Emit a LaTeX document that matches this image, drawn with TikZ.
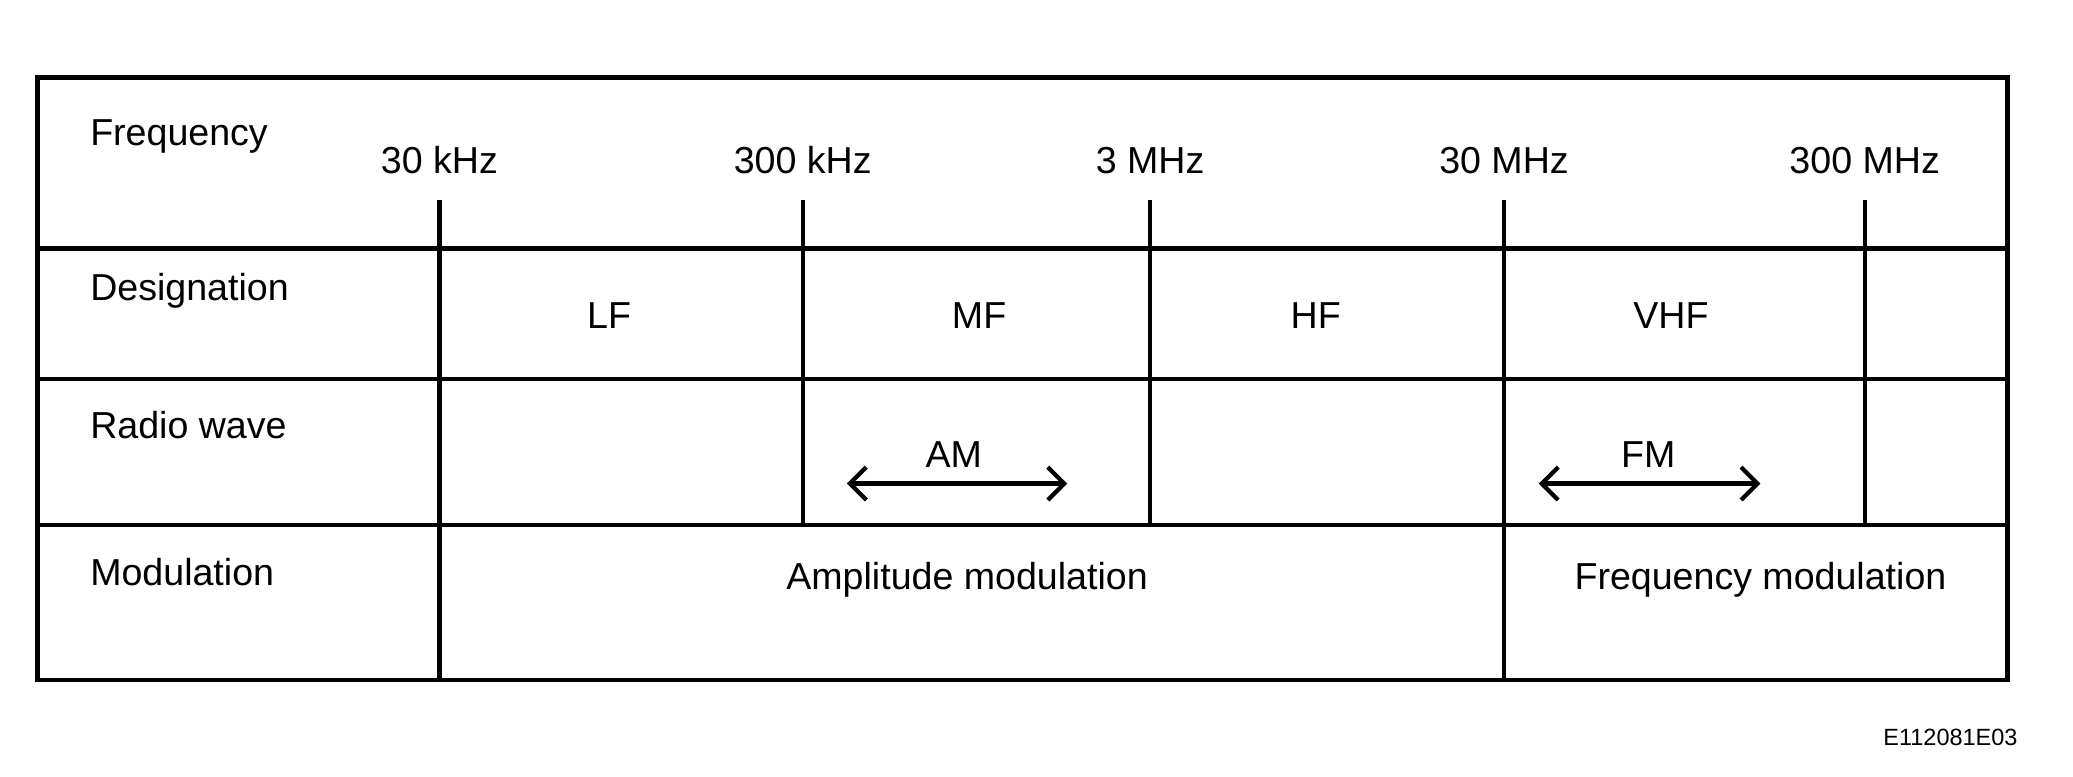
\documentclass[tikz,border=0pt]{standalone}
\usepackage{fontspec}
\setmainfont{Liberation Sans}
\usetikzlibrary{arrows.meta}
\begin{document}
\begin{tikzpicture}[x=0.01cm,y=-0.01cm,line width=0.9pt,
    txt/.style={inner sep=0pt,font=\fontsize{8}{9}\selectfont},
    row/.style={txt,anchor=west},
    band/.style={txt}]
  \useasboundingbox (0,0) rectangle (1552,581);
  % frame and rows
  \draw (28,58) rectangle (1503,509);
  \foreach \y in {186,284,393}
    \draw (28,\y) -- (1503,\y);
  % row titles
  \node[row] (freq) at (66,102) {Frequency};
  \node[row] (desig) at (66,218) {Designation};
  \node[row] (radio) at (66,318) {Radio wave};
  \node[row] (modul) at (66,428) {Modulation};
  % frequency ticks
  \foreach \x/\name/\lab/\yend in {329/a/30 kHz/509, 601/b/300 kHz/393, 861/c/3 MHz/393, 1126/d/30 MHz/509, 1396/e/300 MHz/393}{
    \node[band] (f\name) at (\x,120) {\lab};
    \draw (\x,150) -- (\x,\yend);
  }
  % designations
  \node[band] (lf) at (456,236) {LF};
  \node[band] (mf) at (733,236) {MF};
  \node[band] (hf) at (985,236) {HF};
  \node[band] (vhf) at (1251,236) {VHF};
  % radio waves
  \node[band] (am) at (714,340) {AM};
  \node[band] (fm) at (1234,340) {FM};
  \coordinate (amL) at (634,362);
  \coordinate (amR) at (799,362);
  \coordinate (fmL) at (1152,362);
  \coordinate (fmR) at (1318,362);
  \draw[<->,>={Straight Barb[length=3.5pt,width=7pt]}] (amL) -- (amR);
  \draw[<->,>={Straight Barb[length=3.5pt,width=7pt]}] (fmL) -- (fmR);
  % modulation
  \node[band] (ampmod) at (724,434) {Amplitude modulation};
  \node[band] (freqmod) at (1318,434) {Frequency modulation};
  \node[txt,anchor=east,font=\fontsize{5}{6}\selectfont] (code) at (1512,552) {E112081E03};
\end{tikzpicture}
\end{document}
